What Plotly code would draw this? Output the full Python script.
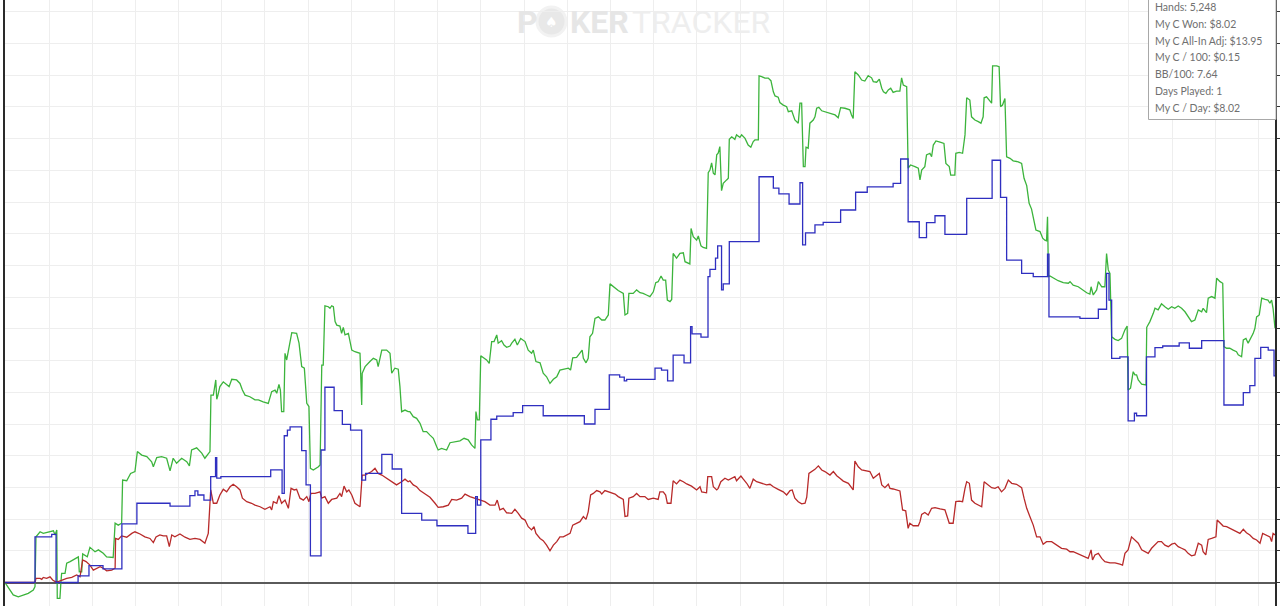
import plotly.graph_objects as go

# ---------------- data (hands, dollars) ----------------
green_hands = [0,21,34,55,76,96,117,124,128,145,158,179,200,207,214,216,227,231,234,248,255,269,289,303,307,317,321,340,351,372,386,406,420,447,455,468,482,486,503,514,519,537,547,565,586,606,613,627,647,668,682,695,709,730,751,762,771,792,813,826,840,847,851,861,871,875,879,888,902,916,926,937,957,971,981,992,1012,1033,1047,1067,1088,1102,1116,1123,1132,1138,1143,1152,1157,1164,1173,1185,1205,1215,1226,1237,1247,1256,1262,1274,1295,1302,1309,1315,1322,1336,1343,1350,1357,1364,1371,1384,1391,1398,1405,1419,1433,1446,1467,1474,1476,1488,1508,1522,1536,1542,1557,1577,1591,1598,1611,1625,1632,1639,1653,1666,1673,1687,1701,1715,1728,1742,1756,1770,1784,1790,1804,1825,1839,1859,1880,1897,1914,1928,1942,1946,1952,1960,1966,1976,1990,2001,2011,2021,2032,2038,2052,2062,2073,2087,2094,2107,2117,2131,2149,2162,2176,2183,2194,2211,2224,2238,2252,2266,2280,2293,2314,2328,2337,2346,2362,2376,2385,2390,2401,2410,2417,2428,2438,2452,2466,2479,2486,2493,2500,2513,2534,2555,2562,2573,2578,2596,2610,2624,2637,2651,2665,2679,2689,2699,2711,2720,2730,2737,2748,2755,2761,2775,2789,2803,2810,2830,2835,2844,2858,2865,2876,2885,2899,2906,2913,2920,2927,2934,2941,2947,2954,2961,2968,2982,2989,2993,3003,3016,3023,3037,3044,3058,3071,3082,3092,3099,3113,3116,3127,3140,3154,3165,3175,3182,3195,3202,3216,3230,3237,3251,3264,3278,3285,3292,3299,3306,3310,3319,3326,3340,3347,3354,3363,3375,3388,3409,3416,3430,3443,3453,3471,3491,3498,3505,3512,3526,3540,3553,3567,3581,3588,3602,3613,3623,3630,3640,3650,3660,3670,3684,3698,3705,3712,3726,3732,3742,3760,3774,3781,3788,3801,3808,3822,3829,3836,3847,3864,3880,3888,3902,3908,3925,3929,3943,3957,3967,3974,3987,3994,4008,4022,4033,4042,4046,4056,4067,4077,4081,4098,4108,4114,4122,4132,4139,4153,4166,4187,4201,4211,4222,4232,4242,4249,4260,4277,4288,4297,4304,4308,4312,4318,4332,4352,4373,4394,4401,4414,4435,4449,4470,4483,4488,4497,4511,4518,4532,4545,4552,4559,4566,4573,4587,4600,4614,4628,4637,4641,4651,4662,4669,4676,4683,4697,4715,4718,4731,4745,4752,4765,4779,4793,4807,4821,4834,4848,4862,4876,4889,4903,4917,4931,4945,4951,4965,4972,4986,5000,5007,5021,5032,5037,5048,5061,5075,5089,5096,5110,5117,5128,5137,5144,5158,5165,5172,5183,5193,5207,5219,5227,5234,5240,5248]
green_won = [0.00,-0.24,-0.39,-0.45,-0.39,-0.34,-0.24,-0.13,1.44,1.60,1.55,1.60,1.63,1.50,1.66,-0.50,-0.50,0.00,0.29,0.29,0.61,0.66,0.74,0.81,0.34,0.34,0.90,0.81,1.11,0.97,1.03,0.92,0.81,0.79,1.87,1.81,1.87,3.23,3.21,3.34,3.44,3.50,4.13,4.02,3.97,3.81,3.65,3.94,3.97,3.92,3.52,3.92,3.76,3.92,3.81,3.68,4.18,4.25,4.08,3.92,4.08,4.13,5.91,5.91,6.39,5.78,5.88,6.18,6.33,6.23,6.18,6.41,6.39,6.28,6.07,5.91,5.86,5.76,5.76,5.70,5.65,6.02,6.07,5.97,6.25,6.07,5.39,5.39,7.23,7.02,7.39,7.88,7.86,7.55,6.81,6.76,5.65,5.55,3.60,3.55,3.65,3.71,6.86,6.86,8.73,8.70,8.65,8.73,8.70,8.23,8.12,8.09,7.86,8.05,7.81,7.86,7.33,7.28,7.23,5.60,6.60,6.81,6.97,7.07,7.02,6.81,7.33,7.33,7.23,6.60,6.76,6.73,6.18,5.39,5.44,5.39,5.39,5.23,5.18,5.02,4.76,4.76,4.65,4.55,4.28,4.18,4.23,4.18,4.41,4.44,4.47,4.55,4.50,4.34,4.23,5.39,5.13,5.13,7.15,7.10,7.02,6.91,7.60,7.60,7.81,7.55,7.63,7.49,7.42,7.46,7.55,7.67,7.49,7.70,7.60,7.33,7.23,7.33,6.97,6.93,6.60,6.49,6.28,6.41,6.49,6.70,6.73,6.76,6.70,7.09,7.10,7.23,7.33,7.07,6.93,7.07,7.75,7.86,8.33,8.38,8.28,8.28,8.38,8.44,9.42,9.33,9.21,9.12,8.44,8.49,9.12,9.12,9.23,9.14,9.12,9.07,9.02,9.17,9.46,9.49,9.67,9.54,9.54,8.91,8.86,8.93,10.38,10.23,10.38,10.40,10.12,10.05,11.17,10.91,10.80,10.93,10.62,10.57,10.54,12.93,13.01,13.24,12.91,12.86,13.49,13.54,13.75,12.36,12.59,12.70,12.75,13.98,14.06,13.98,14.12,14.04,14.12,14.01,13.80,13.73,13.91,13.96,13.96,15.98,15.96,15.91,15.91,15.83,15.48,15.35,15.31,15.14,15.06,15.01,14.85,14.88,14.59,14.49,15.12,15.12,13.12,13.12,13.73,13.70,14.49,14.59,14.69,14.96,14.99,14.88,14.85,14.80,14.80,14.75,14.66,14.98,14.96,14.91,14.75,14.64,16.11,16.01,15.85,15.82,15.99,15.92,15.80,15.78,15.88,15.59,15.48,15.43,15.54,15.59,15.46,15.50,15.50,15.92,15.69,15.64,13.07,13.17,13.12,13.07,12.70,13.01,13.12,13.49,13.54,13.43,13.80,13.93,13.89,13.85,13.22,13.12,12.85,12.85,13.54,13.57,13.54,14.12,15.29,15.22,14.69,14.59,14.54,14.49,14.69,15.29,15.32,15.22,15.12,16.30,16.30,16.27,15.01,15.06,15.27,13.43,13.38,13.30,13.27,13.22,12.75,12.52,11.96,11.78,11.49,11.12,11.07,10.86,10.80,10.78,11.54,9.65,9.67,9.60,9.52,9.46,9.44,9.49,9.38,9.33,9.25,9.14,9.10,9.33,9.07,9.23,9.49,9.33,9.33,10.38,9.86,9.75,7.75,7.67,7.63,7.70,7.97,8.09,6.07,6.13,6.65,6.55,6.55,6.39,6.26,6.23,8.05,8.23,8.49,8.65,8.60,8.79,8.70,8.62,8.70,8.65,8.72,8.65,8.54,8.38,8.23,8.28,8.60,8.54,8.65,8.51,8.97,9.02,8.97,9.60,9.49,9.44,7.44,7.39,7.39,7.33,7.28,7.18,7.12,7.65,7.70,7.55,7.65,7.86,8.02,8.38,8.44,8.97,8.93,8.91,8.81,8.91,8.65,8.02]

blue_hands = [0,124,193,211,302,347,405,483,545,682,764,785,797,822,850,870,875,892,1098,1145,1154,1167,1178,1226,1244,1262,1306,1322,1360,1394,1428,1474,1490,1557,1600,1639,1722,1785,1913,1945,1952,1966,2008,2032,2100,2139,2224,2394,2438,2497,2540,2559,2569,2686,2713,2738,2761,2806,2833,2839,2876,2905,2913,2936,2945,2961,2968,2993,3116,3175,3198,3240,3285,3296,3308,3347,3381,3453,3515,3563,3670,3701,3732,3778,3808,3843,3884,3974,4079,4114,4139,4201,4249,4308,4314,4442,4518,4552,4562,4573,4607,4641,4667,4676,4717,4752,4784,4852,4894,4945,5037,5117,5144,5165,5189,5220,5244,5248]
blue_showdown = [0.00,1.44,1.52,0.00,0.21,0.53,0.43,1.85,2.50,2.41,2.74,2.89,2.76,2.60,3.34,3.94,3.29,3.34,3.55,2.81,4.63,4.81,4.91,4.16,3.08,0.84,4.18,6.16,5.42,4.99,4.81,3.23,3.44,4.04,3.58,2.18,1.97,1.79,1.55,2.71,2.44,4.50,5.15,5.25,5.36,5.58,5.26,5.00,5.46,6.55,6.48,6.36,6.41,6.76,6.70,6.36,7.17,6.93,8.07,7.84,7.74,9.65,9.88,10.23,10.62,9.23,9.42,10.75,12.80,12.44,12.26,11.94,12.61,10.65,11.03,11.28,11.36,11.75,12.31,12.48,12.59,13.36,11.38,10.88,11.35,11.57,10.98,12.12,13.32,12.15,10.17,9.75,9.65,10.36,8.38,8.33,8.62,9.75,8.91,7.07,7.12,5.10,5.34,5.26,7.12,7.41,7.46,7.56,7.39,7.63,5.60,5.99,6.21,7.07,7.42,7.33,6.52,6.52]

red_hands = [0,124,128,145,152,158,172,186,197,207,220,234,255,276,296,310,321,335,351,365,379,393,406,420,441,455,457,468,482,503,524,537,558,578,599,613,624,640,654,668,679,689,702,723,744,764,785,806,826,840,850,861,875,888,902,916,930,943,957,971,981,999,1019,1033,1054,1074,1095,1102,1109,1123,1132,1143,1157,1171,1182,1195,1205,1219,1233,1247,1256,1264,1281,1302,1309,1322,1336,1350,1371,1384,1391,1401,1412,1421,1433,1446,1467,1476,1488,1502,1515,1529,1542,1557,1577,1598,1618,1639,1653,1666,1673,1687,1701,1715,1735,1756,1777,1790,1811,1832,1846,1866,1887,1901,1921,1942,1963,1983,2004,2025,2034,2045,2059,2073,2094,2107,2121,2135,2149,2162,2176,2186,2194,2211,2224,2238,2252,2266,2280,2293,2307,2321,2335,2346,2362,2376,2390,2401,2410,2420,2431,2445,2459,2466,2479,2493,2507,2521,2534,2555,2562,2573,2578,2596,2610,2624,2644,2658,2679,2699,2706,2720,2730,2737,2752,2761,2775,2789,2803,2817,2837,2858,2872,2879,2899,2904,2920,2927,2941,2947,2958,2975,2989,3003,3016,3023,3041,3051,3065,3078,3092,3106,3127,3147,3161,3175,3195,3216,3230,3244,3253,3264,3278,3292,3306,3313,3322,3333,3347,3361,3375,3388,3409,3423,3437,3450,3464,3485,3498,3505,3512,3526,3540,3561,3574,3588,3602,3613,3623,3636,3650,3657,3670,3684,3698,3709,3722,3732,3739,3753,3774,3781,3788,3801,3815,3829,3843,3864,3884,3891,3902,3918,3929,3943,3957,3967,3974,3985,3994,4008,4022,4036,4046,4063,4077,4091,4104,4118,4132,4146,4160,4180,4201,4211,4222,4235,4249,4263,4277,4290,4304,4325,4346,4366,4387,4401,4414,4435,4456,4476,4488,4494,4504,4518,4532,4545,4566,4587,4607,4618,4628,4641,4655,4669,4683,4697,4710,4724,4738,4752,4765,4779,4793,4807,4821,4834,4848,4862,4876,4889,4903,4917,4931,4945,4951,4962,4972,4986,5004,5009,5021,5034,5048,5061,5075,5089,5103,5117,5130,5144,5158,5172,5186,5197,5210,5227,5234,5240,5248]
red_nonshowdown = [0.00,0.00,0.13,0.13,0.10,0.16,0.13,0.18,0.08,0.03,0.03,0.08,0.13,0.16,0.24,0.18,0.71,0.66,0.55,0.39,0.45,0.50,0.45,0.37,0.39,0.45,1.39,1.36,1.47,1.43,1.55,1.60,1.53,1.44,1.39,1.26,1.44,1.50,1.47,1.47,1.13,1.50,1.44,1.53,1.43,1.36,1.39,1.36,1.24,1.55,2.92,2.50,2.50,2.76,2.94,2.86,3.02,3.10,3.02,2.92,2.66,2.55,2.50,2.44,2.39,2.31,2.39,2.29,2.55,2.50,2.74,2.50,2.60,2.34,2.97,2.92,2.94,2.66,2.60,2.71,2.55,2.81,2.81,2.86,2.66,2.71,2.50,2.62,2.66,2.81,2.71,3.04,2.86,2.92,2.76,2.50,2.39,3.39,3.39,3.44,3.50,3.60,3.44,3.39,3.29,3.18,3.08,3.18,3.26,3.18,3.21,3.08,3.02,2.90,2.81,2.69,2.50,2.37,2.39,2.44,2.62,2.60,2.66,2.79,2.71,2.66,2.62,2.55,2.44,2.44,2.60,2.29,2.34,2.20,2.18,2.31,2.18,2.03,1.97,1.76,1.66,1.76,1.55,1.39,1.32,1.18,1.00,1.18,1.29,1.44,1.44,1.50,1.55,1.81,1.87,1.92,2.08,1.99,2.23,2.76,2.81,2.90,2.86,2.79,2.90,2.86,2.83,2.79,2.71,2.62,2.08,2.10,2.66,2.71,2.81,2.71,2.71,2.62,2.66,2.62,2.86,2.86,2.76,2.50,2.50,3.21,3.11,3.23,3.18,3.11,3.04,2.92,3.02,2.86,2.83,3.34,3.34,3.02,2.92,2.97,3.18,3.29,3.23,3.29,3.34,3.21,3.36,3.26,3.13,2.97,3.26,3.18,3.13,3.08,3.10,3.02,2.94,2.86,2.76,2.90,2.92,2.66,2.55,2.48,2.50,2.69,3.44,3.50,3.57,3.68,3.55,3.50,3.39,3.50,3.37,3.29,3.20,3.13,2.97,2.92,3.83,3.65,3.55,3.52,3.50,3.29,3.37,3.44,3.08,2.99,3.10,2.97,2.95,2.92,2.89,2.29,2.26,1.71,1.87,1.79,1.79,1.92,2.15,2.21,2.13,2.34,2.36,2.32,2.29,2.13,1.87,1.87,2.55,2.57,2.55,2.97,3.18,3.13,2.60,2.50,2.44,2.39,3.18,3.08,2.99,2.97,3.02,2.86,2.97,3.23,3.13,3.10,2.99,2.66,2.34,2.08,1.81,1.44,1.44,1.21,1.29,1.29,1.18,1.08,1.05,0.97,0.97,0.90,0.84,0.76,1.03,0.71,0.87,0.92,0.76,0.66,0.62,0.62,0.58,0.55,0.92,1.03,1.44,1.34,1.24,1.03,0.97,0.92,1.08,1.18,1.29,1.29,1.18,1.13,1.21,1.24,1.13,1.08,1.03,0.92,0.84,0.87,1.24,1.18,0.97,0.87,1.36,1.39,1.44,1.97,1.87,1.78,1.76,1.71,1.66,1.60,1.55,1.68,1.57,1.50,1.39,1.34,1.24,1.55,1.50,1.44,1.29,1.55,1.50]

stat_labels = ["Hands: 5,248", "My C Won: $8.02", "My C All-In Adj: $13.95",
               "My C / 100: $0.15", "BB/100: 7.64", "Days Played: 1", "My C / Day: $8.02"]

# ---------------- figure ----------------
W, H = 1280, 606
ML, MR = 5, 5
PW = W - ML - MR

def px(xp):
    return (xp - ML) / PW

def py(yp):
    return 1 - yp / H

fig = go.Figure()
fig.add_trace(go.Scatter(x=green_hands, y=green_won, mode="lines",
                         line=dict(color="#3cb43c", width=1.3), name="Won"))
fig.add_trace(go.Scatter(x=red_hands, y=red_nonshowdown, mode="lines",
                         line=dict(color="#b82a2a", width=1.3), name="Non-showdown"))
fig.add_trace(go.Scatter(x=blue_hands, y=blue_showdown, mode="lines",
                         line=dict(color="#2f2fc0", width=1.3, shape="hv"), name="Showdown"))

shapes = []
# stats box
shapes.append(dict(type="rect", xref="paper", yref="paper",
                   x0=px(1148.5), x1=px(1276), y0=py(119.5), y1=py(-2),
                   fillcolor="white", line=dict(color="#a8a8a8", width=1), layer="above"))
# poker chip of the watermark
shapes.append(dict(type="circle", xref="paper", yref="paper",
                   x0=px(537), x1=px(566), y0=py(36), y1=py(7),
                   fillcolor="#e8e8e8", line=dict(color="#f2f2f2", width=3), layer="below"))

annotations = []
for i, t in enumerate(stat_labels):
    annotations.append(dict(text=t, xref="paper", yref="paper", x=px(1153), y=py(7 + 16.75 * i),
                            xanchor="left", yanchor="middle", showarrow=False,
                            font=dict(family="Lato", size=10.5, color="#707070")))
annotations.append(dict(text="P", xref="paper", yref="paper", x=px(515), y=py(22),
                        xanchor="left", yanchor="middle", showarrow=False,
                        font=dict(family="Roboto", size=32, color="#e6e6e6", weight="bold")))
annotations.append(dict(text="♠", xref="paper", yref="paper", x=px(551.5), y=py(22),
                        xanchor="center", yanchor="middle", showarrow=False,
                        font=dict(family="DejaVu Sans", size=14, color="#ffffff")))
annotations.append(dict(text="KER", xref="paper", yref="paper", x=px(568), y=py(22),
                        xanchor="left", yanchor="middle", showarrow=False,
                        font=dict(family="Roboto", size=32, color="#e6e6e6", weight="bold")))
annotations.append(dict(text="TRACKER", xref="paper", yref="paper", x=px(630), y=py(22),
                        xanchor="left", yanchor="middle", showarrow=False,
                        font=dict(family="Roboto", size=32, color="#eeeeee")))

fig.update_layout(
    width=W, height=H,
    margin=dict(l=ML, r=MR, t=0, b=0, pad=0),
    paper_bgcolor="white", plot_bgcolor="white",
    showlegend=False,
    shapes=shapes, annotations=annotations,
    xaxis=dict(range=[0, 5248], showgrid=True, gridcolor="#eeeeee", gridwidth=1,
               tick0=3.3, dtick=178.5, showticklabels=False, ticks="",
               zeroline=False, showline=False, fixedrange=True),
    yaxis=dict(range=[-0.741, 18.375], showgrid=True, gridcolor="#eeeeee", gridwidth=1,
               tick0=0, dtick=1, side="right", showticklabels=False,
               ticks="outside", ticklen=4, tickcolor="#333333", tickwidth=1,
               showline=True, linecolor="#2a2a2a", linewidth=1.5, mirror=True,
               zeroline=True, zerolinecolor="#5a5a5a", zerolinewidth=1.6, fixedrange=True),
)

fig.write_html("out.html", config={"displayModeBar": False})
